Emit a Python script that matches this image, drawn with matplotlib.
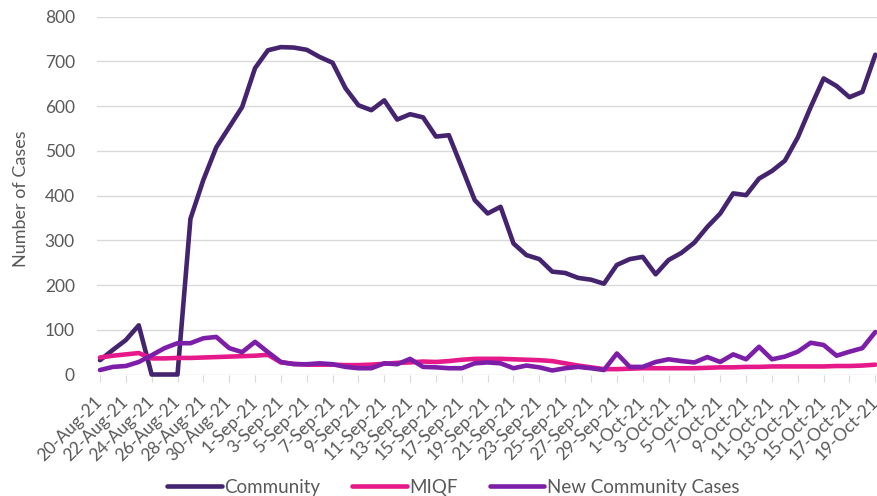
import matplotlib
matplotlib.use("Agg")
import matplotlib.pyplot as plt
import numpy as np
import pandas as pd

dates = pd.date_range("2021-08-20", "2021-10-19", freq="D")
tick_labels = [f"{d.day}-{d.strftime('%b')}-21" for d in dates]

community = [32, 55, 77, 110, 0, 0, 0, 348, 435, 508, 553, 598, 685, 725, 732, 731,
             726, 710, 697, 640, 602, 591, 613, 570, 582, 575, 532, 535, 463, 390,
             360, 375, 293, 267, 258, 230, 227, 216, 212, 203, 245, 258, 263, 224,
             256, 272, 295, 330, 360, 405, 401, 438, 455, 478, 530, 598, 662, 645,
             620, 632, 715]
miqf = [38, 42, 45, 48, 36, 36, 37, 37, 38, 39, 40, 41, 42, 44, 27, 24,
        22, 22, 22, 21, 21, 22, 24, 26, 27, 29, 28, 30, 33, 35,
        35, 35, 34, 33, 32, 30, 25, 20, 16, 12, 12, 13, 14, 14,
        14, 14, 14, 15, 16, 16, 17, 17, 18, 18, 18, 18, 18, 19,
        19, 20, 22]
new_community = [10, 17, 19, 28, 43, 59, 70, 70, 81, 84, 59, 50, 73, 50, 28, 23,
                 23, 25, 23, 17, 14, 14, 25, 23, 35, 17, 16, 14, 14, 25,
                 27, 25, 14, 20, 16, 9, 14, 17, 14, 10, 47, 17, 17, 28,
                 34, 30, 27, 39, 28, 45, 34, 62, 34, 40, 51, 71, 66, 42,
                 51, 59, 95]

series_names = ["Community", "MIQF", "New Community Cases"]
colors = ["#45246f", "#e6198b", "#7d1ea8"]

plt.rcParams['font.family'] = ['Lato', 'DejaVu Sans']
text_color = "#595959"

fig = plt.figure(figsize=(8.77, 4.96), dpi=100)
ax = fig.add_axes([97/877, 121.5/496, 780/877, 357.8/496])

x = np.arange(len(dates))
for vals, name, c in zip([community, miqf, new_community], series_names, colors):
    ax.plot(x, vals, color=c, lw=3.3, label=name, clip_on=False,
            solid_joinstyle='round', solid_capstyle='round')

ax.set_xlim(-0.23, 60.13)
ax.set_ylim(0, 800)
ax.set_yticks(np.arange(0, 801, 100))
ax.yaxis.grid(True, color="#d9d9d9", lw=1)
ax.set_axisbelow(True)
for s in ax.spines.values():
    s.set_visible(False)

ax.set_xticks(x[::2])
ax.set_xticklabels(tick_labels[::2], rotation=45, ha='right', va='center',
                   rotation_mode='anchor')
ax.tick_params(axis='x', length=5, color="#d9d9d9", pad=13, labelsize=12.5,
               labelcolor=text_color)
ax.tick_params(axis='y', length=0, pad=16, labelsize=12.5, labelcolor=text_color)

ax.set_ylabel("Number of Cases", fontsize=13, color=text_color)
ax.yaxis.set_label_coords(-68/780, 0.49)

fig.legend(loc='center', bbox_to_anchor=(0.517, 1 - 487/496), ncol=3, frameon=False,
           fontsize=13.5, handlelength=2.9, handletextpad=0.15, columnspacing=1.7,
           labelcolor=text_color)

fig.savefig("out.png", dpi=100)
